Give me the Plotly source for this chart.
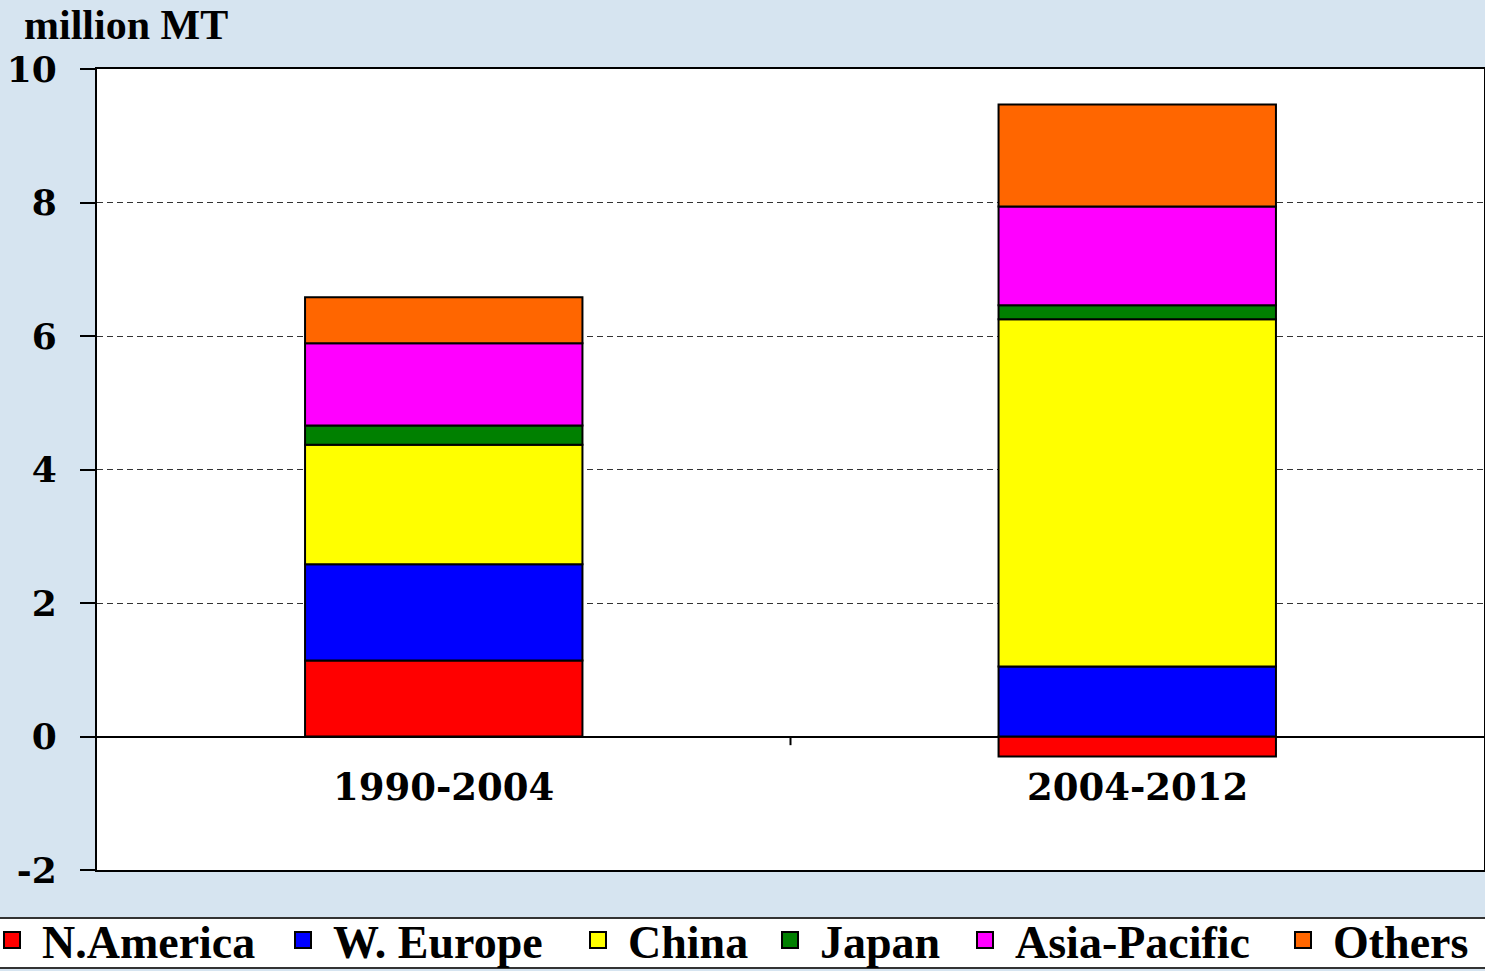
import plotly.graph_objects as go

categories = ["1990-2004", "2004-2012"]
series_names = ["N.America", "W. Europe", "China", "Japan", "Asia-Pacific", "Others"]
n_america = [1.14, -0.30]
w_europe = [1.44, 1.05]
china = [1.79, 5.20]
japan = [0.29, 0.21]
asia_pacific = [1.23, 1.48]
others = [0.69, 1.53]
colors = ["#ff0000", "#0000ff", "#ffff00", "#008000", "#ff00ff", "#ff6600"]
y_ticks = [-2, 0, 2, 4, 6, 8, 10]

values = [n_america, w_europe, china, japan, asia_pacific, others]

# layout constants (pixels)
W, H = 1485, 971
ML, MR, MT, MB = 97, 1, 69, 101
PW, PH = W - ML - MR, H - MT - MB
legend_text_starts = [42, 333, 628, 820, 1015, 1333]

fig = go.Figure()
for i, (name, vals, col) in enumerate(zip(series_names, values, colors)):
    lg = "legend" if i == 0 else "legend%d" % (i + 1)
    fig.add_trace(go.Bar(
        x=categories, y=vals, name=name, width=0.4, showlegend=False,
        marker=dict(color=col, line=dict(color="black", width=2)),
    ))
    # legend key (square marker)
    fig.add_trace(go.Scatter(
        x=[None], y=[None], mode="markers", name=name, legend=lg, showlegend=True,
        marker=dict(symbol="square", size=20, color=col, line=dict(color="black", width=2)),
    ))

serif_wide = "DejaVu Serif"
for c in categories:
    fig.add_annotation(x=c, y=-0.75, xref="x", yref="y", text="<b>%s</b>" % c,
                       showarrow=False, font=dict(family=serif_wide, size=37, color="black"))

fig.add_annotation(x=(22 - ML) / PW, y=1 + MT / PH, xref="paper", yref="paper",
                   xanchor="left", yanchor="top",
                   text="<b>million MT</b>", showarrow=False,
                   font=dict(family="Liberation Serif", size=42, color="black"))

# legend band
fig.add_shape(type="rect", xref="paper", yref="paper", x0=-0.2, x1=1.2,
              y0=-(968 - (MT + PH)) / PH, y1=-(918 - (MT + PH)) / PH,
              fillcolor="white", line=dict(color="#333333", width=2), layer="below")
# center tick on category axis
fig.add_shape(type="line", xref="x", yref="y", x0=0.5, x1=0.5, y0=0, y1=-0.13,
              line=dict(color="black", width=2))

legend_font = dict(family="Liberation Serif", size=46, color="black", weight="bold")
legend_y = -(940 - (MT + PH)) / PH
layout_legends = {}
for i, ts in enumerate(legend_text_starts):
    key = "legend" if i == 0 else "legend%d" % (i + 1)
    layout_legends[key] = dict(
        orientation="h", xref="paper", x=(ts - 60 - ML) / PW, xanchor="left",
        yref="paper", y=legend_y, yanchor="middle", font=legend_font,
        bgcolor="rgba(0,0,0,0)", itemwidth=50, borderwidth=0,
    )

fig.update_layout(
    width=W, height=H,
    margin=dict(l=ML, r=MR, t=MT, b=MB, autoexpand=False),
    paper_bgcolor="#d6e4f0", plot_bgcolor="white",
    barmode="relative", bargap=0.6,
    showlegend=True,
    xaxis=dict(showticklabels=False, showgrid=False, showline=True, mirror=True,
               linecolor="black", linewidth=2, ticks="", range=[-0.5, 1.5]),
    yaxis=dict(range=[-2, 10], tickvals=y_ticks, ticktext=[str(v) for v in y_ticks],
               showline=True, mirror=True, linecolor="black", linewidth=2,
               ticks="outside", ticklen=15, tickwidth=2, tickcolor="black",
               ticklabelstandoff=16,
               showgrid=True, gridcolor="#333333", griddash="6px,4px", gridwidth=1,
               zeroline=True, zerolinecolor="black", zerolinewidth=2,
               tickfont=dict(family=serif_wide, size=36, color="black", weight="bold")),
    **layout_legends,
)

fig.write_html("out.html", config={"displayModeBar": False},
               post_script="document.body.style.margin='0px';")
